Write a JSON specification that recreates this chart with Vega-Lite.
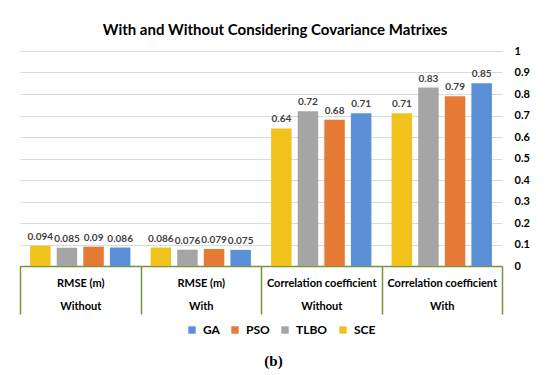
{
  "$schema": "https://vega.github.io/schema/vega-lite/v6.json",
  "autosize": "none",
  "width": 482,
  "height": 215,
  "padding": {"left": 20, "top": 51, "right": 48, "bottom": 109},
  "background": "white",
  "title": {
    "text": "With and Without Considering Covariance Matrixes",
    "font": "Lato",
    "fontSize": 15,
    "fontWeight": "bold",
    "color": "#000000",
    "anchor": "middle",
    "dx": 14,
    "offset": 7
  },
  "data": {
    "values": [
      {"group": "RMSE (m)|Without", "method": "SCE", "value": 0.094},
      {"group": "RMSE (m)|Without", "method": "TLBO", "value": 0.085},
      {"group": "RMSE (m)|Without", "method": "PSO", "value": 0.09},
      {"group": "RMSE (m)|Without", "method": "GA", "value": 0.086},
      {"group": "RMSE (m)|With", "method": "SCE", "value": 0.086},
      {"group": "RMSE (m)|With", "method": "TLBO", "value": 0.076},
      {"group": "RMSE (m)|With", "method": "PSO", "value": 0.079},
      {"group": "RMSE (m)|With", "method": "GA", "value": 0.075},
      {"group": "Correlation coefficient|Without", "method": "SCE", "value": 0.64},
      {"group": "Correlation coefficient|Without", "method": "TLBO", "value": 0.72},
      {"group": "Correlation coefficient|Without", "method": "PSO", "value": 0.68},
      {"group": "Correlation coefficient|Without", "method": "GA", "value": 0.71},
      {"group": "Correlation coefficient|With", "method": "SCE", "value": 0.71},
      {"group": "Correlation coefficient|With", "method": "TLBO", "value": 0.83},
      {"group": "Correlation coefficient|With", "method": "PSO", "value": 0.79},
      {"group": "Correlation coefficient|With", "method": "GA", "value": 0.85}
    ]
  },
  "encoding": {
    "x": {
      "field": "group",
      "type": "nominal",
      "sort": null,
      "scale": {"paddingInner": 0, "paddingOuter": 0},
      "axis": {
        "title": "(b)",
        "titleFont": "Liberation Serif",
        "titleFontSize": 15,
        "titleFontWeight": "bold",
        "titleColor": "#000000",
        "titleX": 253,
        "titleY": 94,
        "titleBaseline": "middle",
        "labelExpr": "split(datum.label, '|')",
        "labelAngle": 0,
        "labelFont": "Lato",
        "labelFontSize": 11,
        "labelFontWeight": "bold",
        "labelColor": "#000000",
        "labelLineHeight": 23,
        "labelPadding": -37,
        "labelBaseline": "top",
        "tickBand": "extent",
        "tickSize": 48,
        "tickColor": "#77933c",
        "tickWidth": 1.5,
        "domainColor": "#77933c",
        "domainWidth": 1.5
      }
    },
    "xOffset": {
      "field": "method",
      "type": "nominal",
      "sort": ["SCE", "TLBO", "PSO", "GA"],
      "scale": {"paddingInner": 0.23, "paddingOuter": 0.38}
    },
    "y": {
      "field": "value",
      "type": "quantitative",
      "scale": {"domain": [0, 1]},
      "axis": {
        "orient": "right",
        "title": null,
        "values": [0, 0.1, 0.2, 0.3, 0.4, 0.5, 0.6, 0.7, 0.8, 0.9, 1],
        "format": ".1~f",
        "domain": false,
        "ticks": false,
        "labelFont": "Lato",
        "labelFontSize": 11,
        "labelFontWeight": "bold",
        "labelColor": "#000000",
        "labelPadding": 12,
        "labelAlign": "left",
        "gridColor": "#d9d9d9",
        "gridWidth": 1
      }
    }
  },
  "layer": [
    {
      "mark": {"type": "bar"},
      "encoding": {
        "color": {
          "field": "method",
          "type": "nominal",
          "scale": {
            "domain": ["GA", "PSO", "TLBO", "SCE"],
            "range": ["#5b8fd8", "#e47a34", "#a5a5a5", "#f2c21c"]
          },
          "legend": {
            "title": null,
            "orient": "none",
            "direction": "horizontal",
            "legendX": 166,
            "legendY": 273,
            "symbolType": "square",
            "symbolSize": 55,
            "symbolStrokeWidth": 0,
            "labelFont": "Lato",
            "labelFontSize": 12,
            "labelFontWeight": "bold",
            "labelColor": "#000000",
            "columnPadding": 9,
            "labelOffset": 5
          }
        }
      }
    },
    {
      "mark": {
        "type": "text",
        "baseline": "bottom",
        "dy": -4,
        "font": "Lato",
        "fontSize": 10,
        "fontWeight": "bold",
        "color": "#404040"
      },
      "encoding": {
        "text": {"field": "value", "type": "quantitative"}
      }
    }
  ],
  "config": {
    "view": {"stroke": null}
  }
}
